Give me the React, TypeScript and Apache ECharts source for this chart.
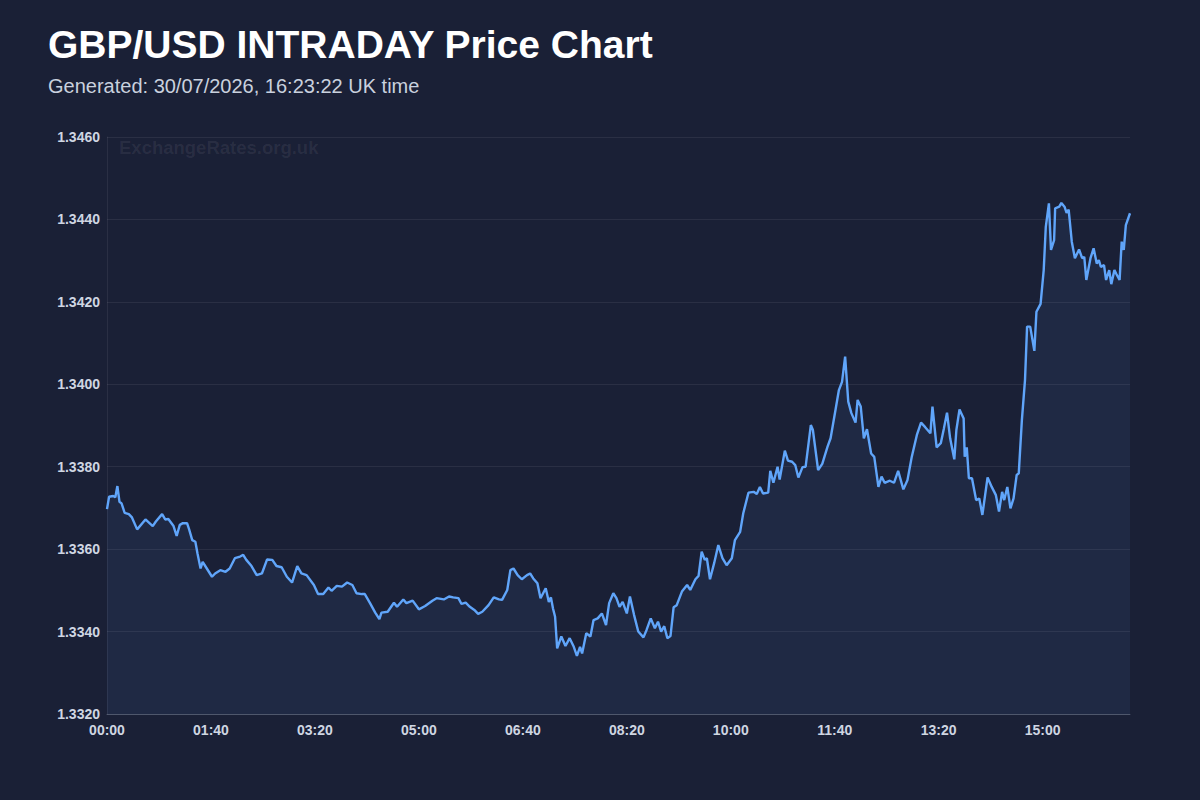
import React, { useEffect, useRef } from "react";
import * as echarts from "echarts";

const titleText = "GBP/USD INTRADAY Price Chart";
const subtitleText = "Generated: 30/07/2026, 16:23:22 UK time";
const watermarkText = "ExchangeRates.org.uk";

// minutes since 00:00 UK time
const minutes = [
  0, 2, 6, 8, 10, 12, 14, 17, 21, 24,
  29, 37, 44, 47, 53, 56, 59, 64, 67, 70,
  73, 77, 79, 82, 85, 87, 90, 92, 96, 101,
  104, 109, 114, 118, 123, 128, 131, 134, 139, 144,
  149, 154, 159, 163, 168, 173, 178, 183, 187, 192,
  199, 203, 208, 213, 216, 221, 226, 231, 236, 240,
  245, 248, 253, 258, 262, 264, 270, 276, 279, 285,
  288, 294, 300, 306, 313, 317, 324, 329, 333, 338,
  341, 345, 349, 354, 357, 361, 367, 372, 377,
  380, 385, 388, 391, 395, 399, 404, 407, 410, 414,
  417, 422, 425, 427, 429, 431, 433, 437, 441, 445,
  449, 452, 455, 457, 461, 465, 468, 472, 476, 480,
  483, 487, 490, 493, 496, 500, 503, 507, 511, 516,
  519, 523, 527, 530, 533, 536, 539, 542, 545, 548,
  553, 558, 561, 566, 569, 572, 575, 577, 580, 584,
  588, 592, 596,
  601, 604, 609, 612, 617, 622, 625, 628, 631, 636,
  638, 641, 645, 647, 652, 655, 659, 662, 665, 669,
  672, 677, 679, 684, 688, 693, 696, 701, 704, 707,
  710, 713, 716, 720, 722, 725, 728, 731, 735, 738,
  742, 745, 748, 753, 757, 761, 766, 770, 774, 779,
  783, 787, 792, 794, 798, 802, 805, 808, 811, 815,
  817, 820, 824, 825, 827, 829, 832, 836, 839, 842,
  847, 851, 855, 858, 861, 863, 866, 869, 872, 875,
  877, 880, 883, 885, 888, 892, 894, 898, 901, 903,
  906, 908, 911, 912, 916, 918, 921, 923, 925, 928,
  931, 935, 938, 940, 942, 946, 949, 952, 954, 956,
  959, 961, 964, 966, 969, 971, 974, 976, 978, 980, 984,
];

const prices = [
  1.33697, 1.33727, 1.33729, 1.33726, 1.33753, 1.33715, 1.33711, 1.33688, 1.33685, 1.33677,
  1.33648, 1.33672, 1.33656, 1.33667, 1.33685, 1.33672, 1.33673, 1.33656, 1.33632, 1.33659,
  1.33663, 1.33663, 1.33648, 1.33622, 1.33618, 1.3359, 1.33553, 1.33569, 1.33553, 1.33533,
  1.33541, 1.33549, 1.33545, 1.33553, 1.33578, 1.33582, 1.33586, 1.33574, 1.33559, 1.33537,
  1.33541, 1.33575, 1.33574, 1.33559, 1.33556, 1.33533, 1.33519, 1.33559, 1.33541, 1.33537,
  1.33513, 1.33491, 1.33491, 1.33507, 1.33499, 1.33511, 1.33509, 1.33519, 1.33513, 1.33493,
  1.33491, 1.33491, 1.33469, 1.33446, 1.3343, 1.33446, 1.33448, 1.3347, 1.3346, 1.33478,
  1.33469, 1.33475, 1.33454, 1.33462, 1.33475, 1.33481, 1.33478, 1.33485, 1.33483, 1.33481,
  1.33467, 1.3347, 1.3346, 1.33451, 1.33443, 1.33448, 1.33464, 1.33483, 1.33478,
  1.33477, 1.33501, 1.33549, 1.33553, 1.33537, 1.33527, 1.33537, 1.33541, 1.33529, 1.33517,
  1.33481, 1.33505, 1.33472, 1.33483, 1.33456, 1.33436, 1.33359, 1.33388, 1.33365, 1.33384,
  1.33363, 1.33341, 1.33363, 1.33347, 1.33396, 1.33388, 1.33428, 1.33432, 1.33444, 1.33416,
  1.33469, 1.33493, 1.33481, 1.3346, 1.33472, 1.33444, 1.33485, 1.3344, 1.334, 1.33386,
  1.33404, 1.33432, 1.33408, 1.33424, 1.334, 1.33413, 1.33384, 1.33389, 1.33459, 1.33464,
  1.33497, 1.33513, 1.33501, 1.33527, 1.33535, 1.33594, 1.33574, 1.33578, 1.33527, 1.33566,
  1.3361, 1.33578, 1.33561,
  1.33578, 1.33622, 1.33642, 1.33687, 1.33737, 1.33739, 1.33734, 1.33751, 1.33735, 1.33737,
  1.3379, 1.33761, 1.338, 1.33769, 1.33839, 1.33815, 1.33812, 1.33804, 1.33774, 1.33799,
  1.338, 1.33901, 1.33889, 1.33792, 1.33807, 1.33848, 1.33869, 1.33942, 1.33986, 1.34006,
  1.34067, 1.33958, 1.3393, 1.33907, 1.33962, 1.33946, 1.33869, 1.33891, 1.33832, 1.33824,
  1.33751, 1.33776, 1.33761, 1.33766, 1.33761, 1.3379, 1.33745, 1.33768, 1.33823, 1.33877,
  1.33907, 1.33896, 1.33881, 1.33946, 1.33847, 1.33857, 1.33893, 1.33931, 1.33869, 1.33818,
  1.33889, 1.33939, 1.33917, 1.33824, 1.33847, 1.33772, 1.33772, 1.33719, 1.33723, 1.33683,
  1.33774, 1.33751, 1.33731, 1.33691, 1.33739, 1.33719, 1.33751, 1.33699, 1.33723, 1.3378,
  1.33784, 1.33913, 1.3401, 1.3414, 1.3414, 1.34081, 1.34176, 1.34195, 1.34277, 1.34382,
  1.34439, 1.34326, 1.3435, 1.34427, 1.34431, 1.3444, 1.34431, 1.34416, 1.34424, 1.34346,
  1.34306, 1.34327, 1.34306, 1.34309, 1.34253, 1.34306, 1.3433, 1.34293, 1.34301, 1.34285,
  1.34289, 1.34253, 1.34277, 1.34243, 1.34277, 1.34267, 1.34253, 1.34346, 1.34326, 1.34386, 1.34415,
];

const yMin = 1.332;
const yMax = 1.346;
const yStep = 0.002;
const xStep = 100;

const FONT = "'Liberation Sans', Arial, Helvetica, sans-serif";
const BG = "#1a2036";

function fmtTime(m: number): string {
  const h = Math.floor(m / 60);
  const mm = Math.round(m % 60);
  return String(h).padStart(2, "0") + ":" + String(mm).padStart(2, "0");
}

export default function App() {
  const ref = useRef<HTMLDivElement>(null);

  useEffect(() => {
    document.body.style.margin = "0";
    document.body.style.background = BG;
    if (!ref.current) return;
    const chart = echarts.init(ref.current, undefined, { renderer: "svg" });
    const data = minutes.map((m, i) => [m, prices[i]]);
    chart.setOption({
      animation: false,
      backgroundColor: BG,
      textStyle: { fontFamily: FONT },
      grid: { left: 107, right: 70, top: 137, bottom: 86 },
      graphic: [
        {
          type: "text",
          left: 48,
          top: 25,
          style: {
            text: titleText,
            fill: "#ffffff",
            font: `bold 39px ${FONT}`,
          },
        },
        {
          type: "text",
          left: 48,
          top: 76,
          style: {
            text: subtitleText,
            fill: "#c9d1de",
            font: `20px ${FONT}`,
          },
        },
        {
          type: "text",
          left: 119,
          top: 138,
          z: 0,
          style: {
            text: watermarkText,
            fill: "rgba(255,255,255,0.07)",
            font: `bold 18.5px ${FONT}`,
          },
        },
      ],
      xAxis: {
        type: "value",
        min: 0,
        max: minutes[minutes.length - 1],
        interval: xStep,
        axisLine: { show: true, lineStyle: { color: "rgba(148,163,184,0.35)", width: 1 } },
        axisTick: { show: false },
        splitLine: { show: false },
        axisLabel: {
          color: "#cfd6e2",
          fontWeight: "bold",
          fontSize: 14,
          fontFamily: FONT,
          margin: 9,
          showMaxLabel: false,
          formatter: (v: number) => fmtTime(v),
        },
      },
      yAxis: {
        type: "value",
        min: yMin,
        max: yMax,
        interval: yStep,
        axisLine: { show: true, lineStyle: { color: "rgba(255,255,255,0.07)" } },
        axisTick: { show: false },
        splitLine: { show: true, lineStyle: { color: "rgba(255,255,255,0.07)", width: 1 } },
        axisLabel: {
          color: "#cfd6e2",
          fontWeight: "bold",
          fontSize: 14,
          fontFamily: FONT,
          margin: 7,
          formatter: (v: number) => v.toFixed(4),
        },
      },
      series: [
        {
          type: "line",
          data,
          showSymbol: false,
          symbol: "none",
          lineStyle: { color: "#60a5fa", width: 2.4 },
          areaStyle: { color: "rgba(96,165,250,0.1)" },
        },
      ],
    });
    return () => chart.dispose();
  }, []);

  return <div ref={ref} style={{ width: 1200, height: 800, background: BG }} />;
}
